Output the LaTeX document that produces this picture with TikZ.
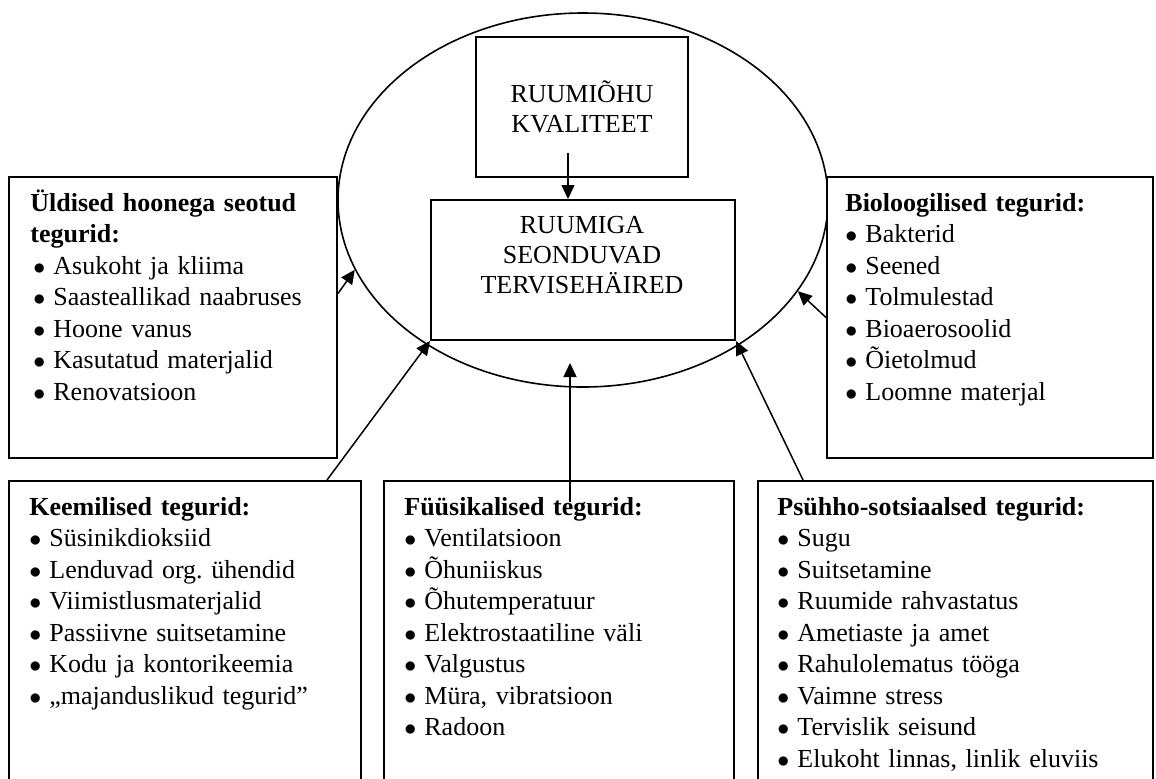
\documentclass[tikz,border=0pt]{standalone}
\usepackage{fontspec}
\setmainfont{Liberation Serif}
\usetikzlibrary{shapes.geometric,arrows.meta}
\newcommand{\bul}[1][0pt]{\hspace*{#1}\makebox[10pt][l]{$\bullet$}}
\begin{document}
\begin{tikzpicture}[x=0.5pt,y=0.5pt,
    factorbox/.style={draw, line width=1pt, fill=white, anchor=north west, inner sep=0pt},
    listtext/.style={anchor=base west, inner sep=0pt, text width=190pt, align=left, font=\fontsize{13}{15.75}\selectfont\frenchspacing},
    capstext/.style={inner sep=0pt, align=center, font=\fontsize{13}{15}\selectfont},
    arr/.style={line width=0.75pt, -{Triangle[length=7pt,width=6.5pt]}}]

    \useasboundingbox (0,0) rectangle (1156,-778);
    \clip (0,0) rectangle (1156,-778);

    \node[ellipse, draw, line width=0.8pt, minimum width=245pt, minimum height=187pt, inner sep=0pt] (ell) at (583,-200) {};

    \node[factorbox, capstext, minimum width=106pt, minimum height=70pt] (kva) at (475,-36) {RUUMIÕHU\\KVALITEET};
    \node[factorbox, minimum width=152pt, minimum height=70pt] (seo) at (430,-199) {};
    \node[capstext, anchor=base, text width=150pt] (seotext) at (582,-233) {RUUMIGA\\SEONDUVAD\\TERVISEHÄIRED};

    \node[factorbox, minimum width=164pt, minimum height=140.5pt] (uld) at (8,-176) {};
    \node[factorbox, minimum width=163pt, minimum height=140.5pt] (bio) at (826,-176) {};
    \node[factorbox, minimum width=176pt, minimum height=160pt] (kee) at (8,-480) {};
    \node[factorbox, minimum width=175pt, minimum height=160pt] (fys) at (383,-480) {};
    \node[factorbox, minimum width=197.5pt, minimum height=160pt] (psy) at (757,-480) {};

    \node[listtext] (uldtext) at (30,-211) {\textbf{Üldised hoonega seotud}\\\textbf{tegurid:}\\
        \bul[1.5pt]Asukoht ja kliima\\\bul[1.5pt]Saasteallikad naabruses\\\bul[1.5pt]Hoone vanus\\
        \bul[1.5pt]Kasutatud materjalid\\\bul[1.5pt]Renovatsioon};
    \node[listtext] (biotext) at (845,-211) {\textbf{Bioloogilised tegurid:}\\
        \bul Bakterid\\\bul Seened\\\bul Tolmulestad\\\bul Bioaerosoolid\\\bul Õietolmud\\\bul Loomne materjal};
    \node[listtext] (keetext) at (29,-515) {\textbf{Keemilised tegurid:}\\
        \bul Süsinikdioksiid\\\bul Lenduvad org. ühendid\\\bul Viimistlusmaterjalid\\
        \bul Passiivne suitsetamine\\\bul Kodu ja kontorikeemia\\\bul „majanduslikud tegurid”};
    \node[listtext] (fystext) at (404,-515) {\textbf{Füüsikalised tegurid:}\\
        \bul Ventilatsioon\\\bul Õhuniiskus\\\bul Õhutemperatuur\\\bul Elektrostaatiline väli\\
        \bul Valgustus\\\bul Müra, vibratsioon\\\bul Radoon};
    \node[listtext] (psytext) at (777,-515) {\textbf{Psühho-sotsiaalsed tegurid:}\\
        \bul Sugu\\\bul Suitsetamine\\\bul Ruumide rahvastatus\\\bul Ametiaste ja amet\\
        \bul Rahulolematus tööga\\\bul Vaimne stress\\\bul Tervislik seisund\\\bul Elukoht linnas, linlik eluviis};

    \coordinate (kvaout) at (568,-153);
    \coordinate (fysin) at (570,-502);
    \coordinate (fystip) at (570,-363);

    \draw[arr] (kvaout) -- (kvaout |- seo.north);
    \draw[arr] ([yshift=12pt]uld.east) -- (ell.197.6);
    \draw[arr] (bio.west) -- (ell.337);
    \draw[arr] ([xshift=-17.5pt]kee.north east) -- (seo.south west);
    \draw[arr] ([xshift=23pt]psy.north west) -- (seo.south east);
    \draw[arr] (fysin) -- (fystip);
\end{tikzpicture}
\end{document}
